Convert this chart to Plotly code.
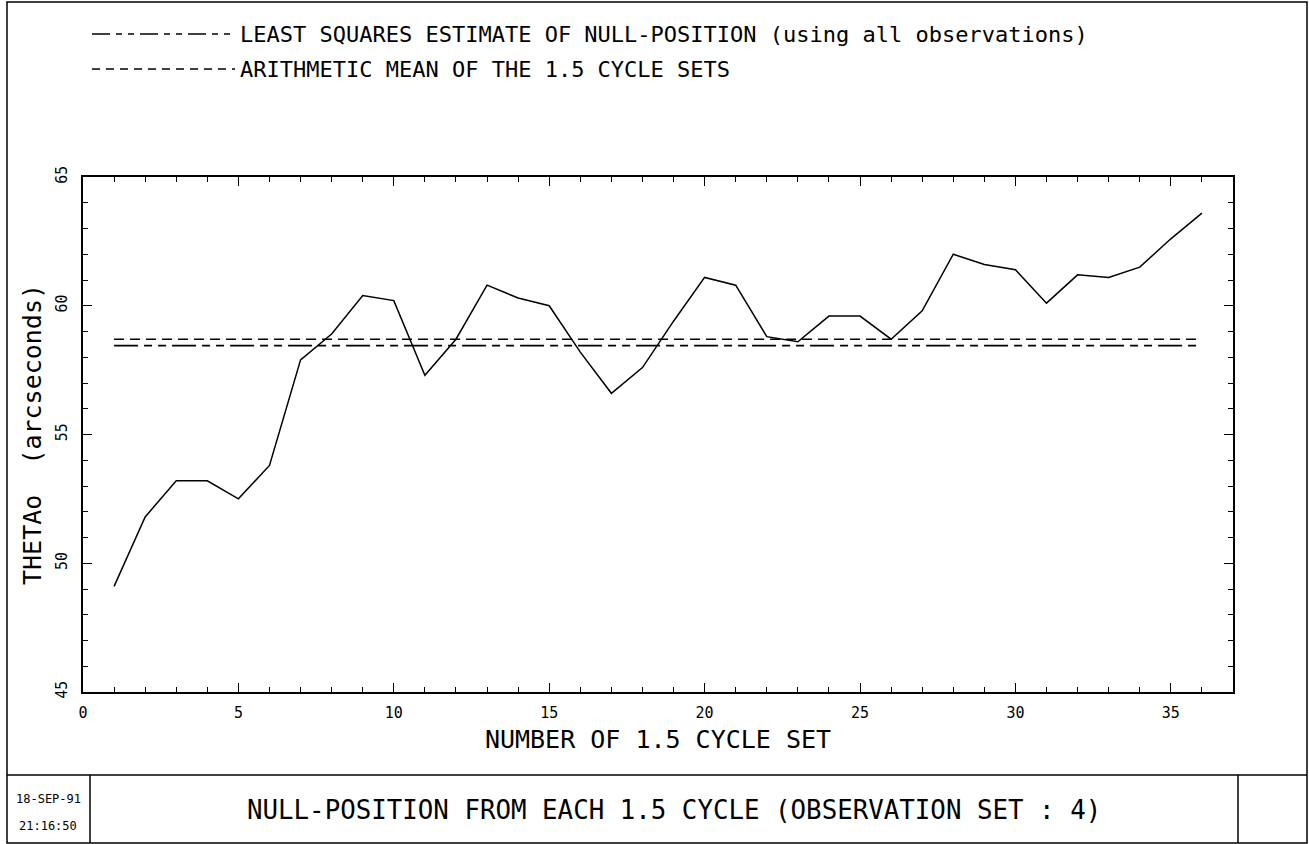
import plotly.graph_objects as go

# Null-position estimates per 1.5 cycle set (observation set 4)
set_number = list(range(1, 37))
theta0 = [49.1, 51.8, 53.2, 53.2, 52.5, 53.8, 57.9, 58.9, 60.4, 60.2,
          57.3, 58.7, 60.8, 60.3, 60.0, 58.2, 56.6, 57.6, 59.4, 61.1,
          60.8, 58.8, 58.6, 59.6, 59.6, 58.7, 59.8, 62.0, 61.6, 61.4,
          60.1, 61.2, 61.1, 61.5, 62.6, 63.6]
least_squares_estimate = 58.45
arithmetic_mean = 58.7

x_range = [0, 37]
y_range = [45, 65]

W, H = 1309, 844
L, R, T, B = 83, 76, 177, 152
PW, PH = W - L - R, H - T - B

FONT = "DejaVu Sans Mono"


def px(x):
    return (x - L) / PW


def py(y):
    return (H - B - y) / PH


fig = go.Figure()

fig.add_trace(go.Scatter(
    x=set_number, y=theta0, mode="lines",
    line=dict(color="black", width=1.5), showlegend=False))

fig.add_trace(go.Scatter(
    x=[set_number[0], set_number[-1]], y=[arithmetic_mean] * 2, mode="lines",
    line=dict(color="black", width=1.6, dash="10px,6px"), showlegend=False))

fig.add_trace(go.Scatter(
    x=[set_number[0], set_number[-1]], y=[least_squares_estimate] * 2, mode="lines",
    line=dict(color="black", width=1.6, dash="24px,6px,8px,6px,8px,6px"),
    showlegend=False))

shapes = []
# key samples
shapes.append(dict(type="line", xref="paper", yref="paper",
                   x0=px(92), x1=px(235), y0=py(34), y1=py(34),
                   line=dict(color="black", width=1.6, dash="18px,6px,6px,6px,6px,6px")))
shapes.append(dict(type="line", xref="paper", yref="paper",
                   x0=px(92), x1=px(235), y0=py(69), y1=py(69),
                   line=dict(color="black", width=1.4, dash="8px,6px")))
# page frame and title block
frame = dict(color="black", width=1.5)
shapes.append(dict(type="rect", xref="paper", yref="paper",
                   x0=px(7), x1=px(1307), y0=py(2), y1=py(843), line=frame))
shapes.append(dict(type="line", xref="paper", yref="paper",
                   x0=px(7), x1=px(1307), y0=py(775), y1=py(775), line=frame))
shapes.append(dict(type="line", xref="paper", yref="paper",
                   x0=px(90), x1=px(90), y0=py(775), y1=py(843), line=frame))
shapes.append(dict(type="line", xref="paper", yref="paper",
                   x0=px(1238), x1=px(1238), y0=py(775), y1=py(843), line=frame))

annotations = [
    dict(text="LEAST SQUARES ESTIMATE OF NULL-POSITION (using all observations)",
         x=px(238), y=py(34), font=dict(size=22)),
    dict(text="ARITHMETIC MEAN OF THE 1.5 CYCLE SETS",
         x=px(238), y=py(69), font=dict(size=22)),
    dict(text="NULL-POSITION FROM EACH 1.5 CYCLE (OBSERVATION SET : 4)",
         x=px(245), y=py(810), font=dict(size=25.8)),
    dict(text="18-SEP-91", x=px(48), y=py(799), xanchor="center", font=dict(size=12)),
    dict(text="21:16:50", x=px(48), y=py(826), xanchor="center", font=dict(size=12)),
]
for a in annotations:
    a.setdefault("xanchor", "left")
    a.update(xref="paper", yref="paper", yanchor="middle", showarrow=False)
    a["font"].update(family=FONT, color="black")

axis_common = dict(
    showgrid=False, zeroline=False, showline=True, linecolor="black", linewidth=1.6,
    mirror="ticks", ticks="inside", ticklen=9, tickwidth=1.4, tickcolor="black",
    minor=dict(ticks="inside", ticklen=5, tickwidth=1.2, tickcolor="black", dtick=1),
)

fig.update_layout(
    width=W, height=H,
    margin=dict(l=L, r=R, t=T, b=B, autoexpand=False),
    paper_bgcolor="white", plot_bgcolor="white",
    shapes=shapes, annotations=annotations,
    xaxis=dict(range=x_range, dtick=5, tick0=0, ticklabelstandoff=6,
               tickfont=dict(family=FONT, size=15, color="black"),
               title=dict(text="NUMBER OF 1.5 CYCLE SET", standoff=10,
                          font=dict(family=FONT, size=25, color="black")),
               **axis_common),
    yaxis=dict(range=y_range, dtick=5, tick0=45, tickangle=-90, ticklabelstandoff=8,
               tickfont=dict(family=FONT, size=15, color="black"),
               title=dict(text="THETAo  (arcseconds)", standoff=4,
                          font=dict(family=FONT, size=25, color="black")),
               **axis_common),
)

fig.write_html("out.html")
